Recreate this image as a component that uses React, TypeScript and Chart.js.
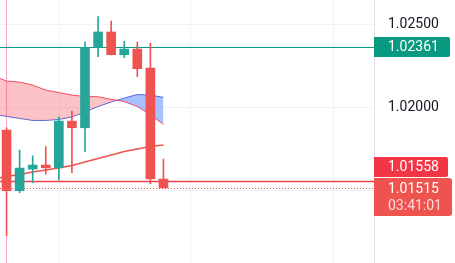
import React, { useEffect, useRef } from 'react';
import { Chart, registerables } from 'chart.js';

Chart.register(...registerables);

// ---- Data ----
const candleIndex = [0, 1, 2, 3, 4, 5, 6, 7, 8, 9, 10, 11, 12];
const opens = [1.01863, 1.01498, 1.01628, 1.01652, 1.01636, 1.01917, 1.01877, 1.02361, 1.02454, 1.02317, 1.02351, 1.02237, 1.01568];
const highs = [1.01877, 1.01743, 1.01708, 1.01763, 1.01942, 1.01978, 1.02393, 1.02546, 1.0252, 1.02399, 1.02393, 1.02387, 1.01689];
const lows = [1.01227, 1.01486, 1.01546, 1.01598, 1.01562, 1.01606, 1.01733, 1.02305, 1.02315, 1.02299, 1.02184, 1.0154, 1.01515];
const closes = [1.01498, 1.01634, 1.01652, 1.01636, 1.01917, 1.01877, 1.02361, 1.02454, 1.02317, 1.02351, 1.02233, 1.01568, 1.01515];

const lineIndex = [-1, 0, 1, 2, 3, 4, 5, 6, 7, 8, 9, 10, 11, 12];
const spanA = [1.02189, 1.02158, 1.02152, 1.02134, 1.02104, 1.02089, 1.02074, 1.02065, 1.02064, 1.02048, 1.02035, 1.02005, 1.01954, 1.01898];
const spanB = [1.0196, 1.01945, 1.01933, 1.01921, 1.01921, 1.01927, 1.01942, 1.01972, 1.02005, 1.02032, 1.02056, 1.02077, 1.02074, 1.0206];
const maLine = [1.01568, 1.01583, 1.01595, 1.0161, 1.01622, 1.01634, 1.01649, 1.01671, 1.01692, 1.01713, 1.01734, 1.01749, 1.01764, 1.01773];

const yMin = 1.010622;
const yMax = 1.026466;
const yStep = 0.005;
const xMin = -0.5;
const xMax = 28.1;

const timeGridIndex = [4, 14, 25];
const sessionBreakIndex = 0;

const highLevel = 1.02361;
const prevLevel = 1.01558;
const lastPrice = 1.01515;
const countdown = '03:41:01';

const UP = '#26a69a';
const DOWN = '#ef5350';
const FONT = 'Roboto';

function roundRect(ctx: CanvasRenderingContext2D, x: number, y: number, w: number, h: number, r: number) {
  ctx.beginPath();
  ctx.moveTo(x, y);
  ctx.lineTo(x + w - r, y);
  ctx.quadraticCurveTo(x + w, y, x + w, y + r);
  ctx.lineTo(x + w, y + h - r);
  ctx.quadraticCurveTo(x + w, y + h, x + w - r, y + h);
  ctx.lineTo(x, y + h);
  ctx.closePath();
}

const overlayPlugin = {
  id: 'overlay',
  beforeDatasetsDraw(chart: any) {
    const { ctx, chartArea: a, scales } = chart;
    const x = scales.x;
    const y = scales.y;
    ctx.save();
    ctx.beginPath();
    ctx.rect(a.left, a.top, a.right - a.left, a.bottom - a.top);
    ctx.clip();
    ctx.lineWidth = 1;
    ctx.strokeStyle = '#f0f3fa';
    timeGridIndex.forEach((i) => {
      const px = Math.round(x.getPixelForValue(i)) + 0.5;
      ctx.beginPath();
      ctx.moveTo(px, a.top);
      ctx.lineTo(px, a.bottom);
      ctx.stroke();
    });
    // session break
    ctx.strokeStyle = 'rgba(242, 60, 130, 0.45)';
    const sb = Math.round(x.getPixelForValue(sessionBreakIndex)) - 0.5;
    ctx.beginPath();
    ctx.moveTo(sb, a.top);
    ctx.lineTo(sb, a.bottom);
    ctx.stroke();
    // level lines
    const hy = Math.round(y.getPixelForValue(highLevel)) + 0.5;
    ctx.strokeStyle = '#089981';
    ctx.beginPath();
    ctx.moveTo(a.left, hy);
    ctx.lineTo(a.right, hy);
    ctx.stroke();
    const py = Math.round(y.getPixelForValue(prevLevel)) + 0.5;
    ctx.strokeStyle = '#e8404c';
    ctx.lineWidth = 1.3;
    ctx.beginPath();
    ctx.moveTo(a.left, py);
    ctx.lineTo(a.right, py);
    ctx.stroke();
    const ly = Math.round(y.getPixelForValue(lastPrice)) + 0.5;
    ctx.strokeStyle = '#ef5350';
    ctx.lineWidth = 1;
    ctx.setLineDash([1, 2]);
    ctx.beginPath();
    ctx.moveTo(a.left, ly);
    ctx.lineTo(a.right, ly);
    ctx.stroke();
    ctx.restore();
  },
  afterDraw(chart: any) {
    const { ctx, chartArea: a, scales } = chart;
    const y = scales.y;
    ctx.save();
    ctx.font = `14px ${FONT}`;
    ctx.textBaseline = 'middle';
    ctx.textAlign = 'left';
    const tx = a.right + 14;
    // high level tag
    const hy = y.getPixelForValue(highLevel);
    ctx.fillStyle = '#089981';
    roundRect(ctx, a.right, Math.round(hy) - 10, 76, 20, 2);
    ctx.fill();
    ctx.fillStyle = '#ffffff';
    ctx.fillText(highLevel.toFixed(5), tx, Math.round(hy) + 0.5);
    // last price tag
    const ly = Math.round(y.getPixelForValue(lastPrice));
    const lastTop = ly - 10;
    ctx.fillStyle = '#ef5350';
    roundRect(ctx, a.right, lastTop, 78, 38, 3);
    ctx.fill();
    // prev level tag (stacked above)
    const prevTop = lastTop - 21;
    ctx.fillStyle = '#f23645';
    roundRect(ctx, a.right, prevTop, 74, 20, 2);
    ctx.fill();
    ctx.fillStyle = '#ffffff';
    ctx.fillText(prevLevel.toFixed(5), tx, prevTop + 10.5);
    ctx.fillText(lastPrice.toFixed(5), tx, lastTop + 11);
    ctx.fillStyle = 'rgba(255,255,255,0.78)';
    ctx.fillText(countdown, tx, lastTop + 28);
    ctx.restore();
  },
};

export default function App() {
  const ref = useRef<HTMLCanvasElement | null>(null);

  useEffect(() => {
    if (!ref.current) return;
    const colors = candleIndex.map((i) => (closes[i] >= opens[i] ? UP : DOWN));
    const chart = new Chart(ref.current, {
      type: 'bar',
      data: {
        datasets: [
          {
            type: 'bar',
            label: 'body',
            data: candleIndex.map((i) => ({ x: i, y: [opens[i], closes[i]] })) as any,
            backgroundColor: colors,
            barThickness: 9,
            grouped: false,
            order: 0,
          } as any,
          {
            type: 'bar',
            label: 'wick',
            data: candleIndex.map((i) => ({ x: i, y: [lows[i], highs[i]] })) as any,
            backgroundColor: colors,
            barThickness: 1,
            grouped: false,
            order: 1,
          } as any,
          {
            type: 'line',
            label: 'ma',
            data: lineIndex.map((v, k) => ({ x: v, y: maLine[k] })),
            borderColor: '#ef5350',
            borderWidth: 1.5,
            pointRadius: 0,
            fill: false,
            order: 2,
          } as any,
          {
            type: 'line',
            label: 'spanA',
            data: lineIndex.map((v, k) => ({ x: v, y: spanA[k] })),
            borderColor: 'rgba(242,54,69,0.85)',
            borderWidth: 1,
            pointRadius: 0,
            fill: { target: '+1', above: 'rgba(242,54,69,0.3)', below: 'rgba(41,98,255,0.4)' },
            order: 3,
          } as any,
          {
            type: 'line',
            label: 'spanB',
            data: lineIndex.map((v, k) => ({ x: v, y: spanB[k] })),
            borderColor: '#5b6ee0',
            borderWidth: 1,
            pointRadius: 0,
            fill: false,
            order: 4,
          } as any,
        ],
      },
      options: {
        animation: false,
        responsive: true,
        maintainAspectRatio: false,
        devicePixelRatio: 1,
        layout: { padding: 0 },
        plugins: { legend: { display: false }, tooltip: { enabled: false } },
        scales: {
          x: {
            type: 'linear',
            min: xMin,
            max: xMax,
            display: false,
            offset: false,
            grid: { offset: false },
          },
          y: {
            type: 'linear',
            position: 'right',
            min: yMin,
            max: yMax,
            afterFit: (s: any) => {
              s.width = 81;
              s.paddingTop = 0;
              s.paddingBottom = 0;
            },
            ticks: {
              stepSize: yStep,
              includeBounds: false,
              padding: 14,
              color: '#131722',
              font: { family: FONT, size: 14 },
              callback: (v: any) => Number(v).toFixed(5),
            },
            grid: { color: '#f0f3fa', drawTicks: false },
            border: { color: '#e0e3eb' },
          },
        },
      } as any,
      plugins: [overlayPlugin],
    });
    return () => chart.destroy();
  }, []);

  return (
    <div style={{ position: 'fixed', left: 0, top: 0, width: 455, height: 263, background: '#ffffff' }}>
      <canvas ref={ref} />
    </div>
  );
}
